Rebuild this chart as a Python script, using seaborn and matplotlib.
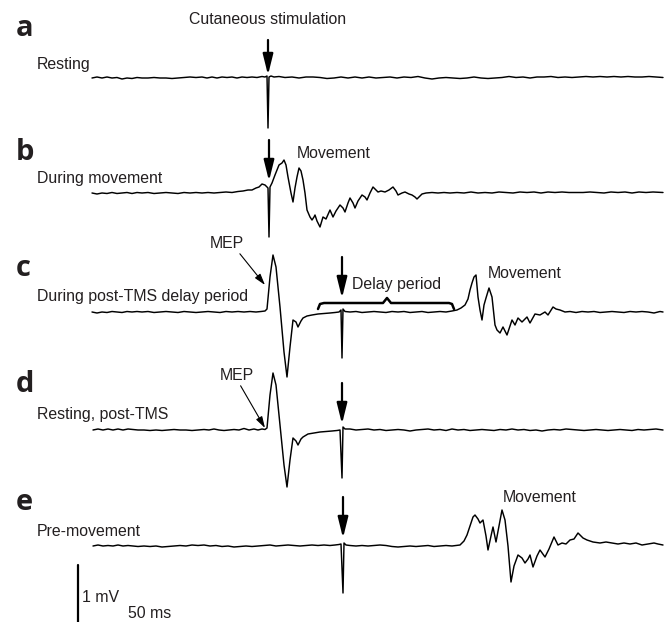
import matplotlib
matplotlib.use('Agg')
import matplotlib.pyplot as plt
import seaborn as sns
import pandas as pd

# traces: time position (px on the page) and amplitude (px, up = positive)
a_t = [92, 97, 102, 107, 112, 117, 122, 127, 132, 137,
       142, 148, 154, 160, 166, 172, 178, 184, 190, 196,
       202, 207, 212, 217, 222, 227, 232, 237, 242, 247,
       252, 257, 262, 265, 267, 268, 269, 271, 274, 279,
       285, 292, 299, 306, 313, 320, 327, 334, 341, 348,
       355, 362, 369, 376, 383, 390, 397, 404, 411, 418,
       425, 432, 439, 446, 453, 460, 467, 474, 481, 488,
       495, 502, 509, 516, 523, 530, 537, 544, 551, 558,
       565, 572, 579, 586, 593, 600, 607, 614, 621, 628,
       635, 642, 649, 656, 663]
a_v = [0, 1, 0, 1, 0, 0.5, -1, 0, -0.5, 0.5,
       0, 0, 0.5, 0, 0, -0.5, 0, 0.5, 1, 0.5,
       1, 0, 1, 0, 1, 0.5, 1, 0, 1, 0.5,
       1, 0.5, 1.5, 1, 2, -50, 1, 2, 1, 1.5,
       0.5, 1, 0, 1, 1, 0.5, -0.5, 0, 1, 0,
       1, 0, 1, 0, 0.5, 1, 0, 1, 0.5, 1.5,
       0, -1, 0, 0.5, 0, -0.5, 0, 1, 0, -0.5,
       0, 0.5, 1.5, 0.5, 1, 0, 1, 1, 1.5, 0.5,
       1, 0.5, 1, 1.5, 1, 1.5, 1, 1.5, 1, 1.5,
       1, 1, 1.5, 1, 0.5]

b_t = [92, 97, 102, 107, 112, 117, 122, 127, 132, 137,
       142, 148, 154, 160, 166, 172, 178, 184, 190, 196,
       202, 208, 214, 220, 226, 232, 238, 243, 248, 252,
       256, 259, 262, 265, 267, 268, 269, 270, 272, 275,
       277, 279, 282, 284, 286, 288, 291, 293, 295, 297,
       299, 301, 303, 305, 307, 310, 312, 314, 315, 317,
       320, 323, 326, 330, 333, 336, 340, 343, 345, 348,
       350, 353, 355, 358, 362, 365, 367, 370, 373, 376,
       378, 381, 385, 389, 393, 396, 398, 402, 405, 409,
       412, 415, 417, 420, 422, 426, 432, 438, 444, 450,
       457, 464, 471, 478, 485, 492, 499, 506, 513, 520,
       527, 534, 541, 548, 555, 562, 569, 576, 583, 590,
       597, 604, 611, 618, 625, 632, 639, 646, 653, 663]
b_v = [0, -1, 0, -0.5, 0.5, -0.5, 0, 0.5, -0.5, 0.5,
       0, 0.5, -0.5, 0, 0.5, 0, -0.5, 0.5, 0, 0.5,
       0, 0.5, 0, 0.5, 1, 0.5, 1.5, 2, 3, 3,
       5, 6, 9, 8, 6, 5, -44, 6, 10, 18,
       23, 28, 30, 33, 28, 16, 0, -9, 5, 16,
       25, 22, 13, 0, -17, -24, -27, -24, -22, -28,
       -34, -24, -26, -17, -24, -18, -12, -15, -19, -10,
       -5, -10, -15, -8, -2, -4, -7, 0, 6, 3,
       1, 2, 1, 3, 6, 2, -2, 0, 1, -1,
       -2, -4, -6, -3, -1, 0, 0.5, 0, 0.5, 0,
       0.5, 0, 1, 0, 0.5, 0, 1, 0.5, 0, 1,
       0.5, 1, 0, 1, 0.5, 1, 0.5, 0.5, 0.5, 1,
       0.5, 0, 1, 0.5, 1, 0, 1, 0.5, 1, 0.5]

c_t = [92, 97, 102, 107, 112, 117, 122, 127, 132, 137,
       142, 148, 154, 160, 166, 172, 178, 184, 190, 196,
       202, 208, 214, 220, 226, 232, 238, 244, 250, 256,
       261, 265, 267, 270, 273, 276, 280, 284, 287, 290,
       293, 296, 298, 301, 303, 307, 312, 318, 324, 330,
       335, 339, 341, 342, 343, 345, 350, 356, 362, 368,
       374, 380, 386, 392, 398, 404, 410, 416, 422, 428,
       434, 440, 446, 452, 457, 461, 465, 468, 470, 472,
       474, 476, 478, 480, 482, 484, 486, 489, 492, 495,
       497, 500, 503, 507, 510, 512, 515, 518, 522, 527,
       530, 535, 540, 545, 548, 553, 556, 560, 565, 570,
       576, 582, 588, 594, 600, 606, 612, 618, 624, 630,
       636, 642, 648, 654, 660, 663]
c_v = [0, -1, 0, -0.5, 0.5, 0, -0.5, 0.5, 0, 0.5,
       0, 0.5, -0.5, 0, 0.5, 0, -0.5, 0.5, 0, -0.5,
       0, 0.5, 0, -0.5, 0.5, 0, 0.5, 0, 0.5, 0,
       0.5, 1, 3, 35, 57, 45, 5, -40, -65, -35,
       -8, -10, -15, -9, -6, -4, -3, -2, -1.5, -1,
       -0.5, 0, 2, -46, 3, 0.5, 0, 0.5, -0.5, 0,
       0.5, 0, -0.5, 0.5, 0, 0.5, -0.5, 0, 0.5, -0.5,
       0, 0.5, 0, 1, 2, 4, 7, 13, 22, 29,
       35, 37, 15, 2, -8, 7, 14, 24, 15, -13,
       -18, -21, -15, -23, -14, -8, -13, -6, -10, -5,
       -11, -2, -3, 0, -3, 5, 3, 2, 0, 0.5,
       -0.5, 0.5, 0, 0.5, -0.5, 0, 0.5, 0, -0.5, 0.5,
       0, 0.5, 0, -1, 0.5, 0]

d_t = [93, 98, 103, 108, 113, 118, 123, 128, 133, 138,
       144, 150, 156, 162, 168, 174, 180, 186, 192, 198,
       204, 209, 214, 219, 224, 229, 234, 239, 244, 249,
       254, 258, 262, 265, 267, 270, 273, 276, 280, 284,
       287, 290, 293, 296, 298, 301, 303, 308, 314, 320,
       326, 332, 337, 340, 342, 343, 345, 350, 356, 362,
       368, 374, 380, 386, 392, 398, 404, 410, 416, 422,
       428, 434, 440, 446, 452, 458, 464, 470, 476, 482,
       488, 494, 500, 506, 512, 518, 524, 530, 536, 542,
       548, 554, 560, 566, 572, 578, 584, 590, 596, 602,
       608, 614, 620, 626, 632, 638, 644, 650, 656, 663]
d_v = [0, 1, 0, 1, 0, 1, 0, 1, 0.5, 0,
       0, -0.5, 0, -0.5, 0, 0.5, 0, 0, -0.5, 0,
       0.5, 0, 1, 0, -0.5, 0, 0.5, 0, 1.5, 0,
       1, 0, 1, 0.5, 2, 35, 57, 45, 5, -35,
       -57, -30, -8, -11, -15, -9, -7, -4, -3, -2,
       -1.5, -1, -0.5, 0, -48, 3, 1, 1, 0, 0.5,
       1, 0, 0.5, -0.5, 0, 0.5, 0, -1, 0, 0.5,
       1, 0, 0.5, -0.5, 1, 0, 0.5, -0.5, 0, 0.5,
       0, -0.5, 0.5, 0, 1, 0, 0.5, -0.5, 0, -1,
       0, 0.5, 0, 1, 0.5, 0, -0.5, 0, 0.5, 0,
       -0.5, 0, 0.5, 0, -0.5, 0.5, 0, 0.5, 1, 0]

e_t = [93, 98, 103, 108, 113, 118, 123, 128, 133, 138,
       144, 150, 156, 162, 168, 174, 180, 186, 192, 198,
       204, 210, 216, 222, 228, 234, 240, 246, 252, 258,
       264, 270, 276, 282, 288, 294, 300, 306, 312, 318,
       324, 330, 335, 339, 341, 343, 344, 346, 350, 356,
       362, 368, 374, 380, 386, 392, 398, 404, 410, 416,
       422, 428, 434, 440, 446, 452, 456, 460, 464, 467,
       470, 473, 475, 478, 480, 483, 486, 488, 491, 493,
       496, 499, 502, 505, 508, 511, 514, 518, 522, 525,
       528, 530, 533, 537, 540, 545, 549, 554, 558, 562,
       566, 570, 574, 578, 583, 587, 593, 600, 606, 612,
       618, 624, 630, 636, 642, 648, 654, 658, 663]
e_v = [0, 1, 0, 0.5, 0, 1, 0, 0.5, 0, -0.5,
       0, -0.5, 0, -1, -0.5, 0, 0.5, 0, 1, 0.5,
       1, 0, 0.5, -0.5, 0, -1, -0.5, 0, -0.5, 0,
       0.5, 1, 0, 0.5, 1, 0.5, 0, 0.5, 1, 0.5,
       1, 0.5, 1, 1.5, 2, -47, 3, 1, 0.5, 0,
       0.5, 0, 0.5, 1, 0.5, -0.5, -1, -0.5, 0, -0.5,
       0, 0.5, -0.5, 0, 0.5, 0, 0.5, 1, 5, 11,
       20, 29, 31, 27, 23, 26, 10, -4, 10, 19,
       4, 20, 36, 26, 0, -36, -20, -9, -12, -17,
       -13, -9, -21, -10, -4, -11, -3, 9, 1, 3,
       2, 6, 7, 13, 8, 6, 4, 3, 4, 3,
       2, 3, 2, 3, 1, 2, 3, 2, 1]

panels = ['a', 'b', 'c', 'd', 'e']
conditions = ['Resting', 'During movement', 'During post-TMS delay period',
              'Resting, post-TMS', 'Pre-movement']
baselines = [78, 193, 312, 430, 546]
traces = [(a_t, a_v), (b_t, b_v), (c_t, c_v), (d_t, d_v), (e_t, e_v)]

frames = []
for p, base, (t, v) in zip(panels, baselines, traces):
    frames.append(pd.DataFrame({'trace': p, 't': t, 'y': [base - val for val in v]}))
df = pd.concat(frames, ignore_index=True)

sns.set_theme(style='white')
plt.rcParams['font.family'] = ['Liberation Sans', 'DejaVu Sans']
ink = '#231f20'
fs = 11.4

fig = plt.figure(figsize=(6.67, 6.22), dpi=100)
ax = fig.add_axes([0, 0, 1, 1])
sns.lineplot(data=df, x='t', y='y', units='trace', estimator=None,
             color='black', lw=1.05, ax=ax, legend=False)
ax.set_xlim(0, 667)
ax.set_ylim(622, 0)
ax.axis('off')

# panel letters and condition labels
letter_y = [29, 153, 268, 385, 503]
label_y = [65, 178, 297, 415, 532]
for p, cond, ly, cy in zip(panels, conditions, letter_y, label_y):
    ax.text(16, ly, p, fontsize=21, fontweight='bold', family='Open Sans',
            color=ink, ha='left', va='center')
    ax.text(37, cy, cond, fontsize=fs, color=ink, ha='left', va='center')

# stimulation arrows
big_arrow = dict(arrowstyle='-|>,head_length=1.05,head_width=0.26', lw=1.6,
                 color='black', shrinkA=0, shrinkB=0)
for x0, y0, y1 in [(268, 40, 75), (269, 140, 181), (342, 257, 298),
                   (342, 383, 424), (343, 497, 538)]:
    ax.annotate('', xy=(x0, y1), xytext=(x0, y0), arrowprops=big_arrow)

ax.text(268, 19, 'Cutaneous stimulation', fontsize=fs, color=ink,
        ha='center', va='center')

# movement labels
for x0, y0 in [(297, 153), (488, 273), (503, 497)]:
    ax.text(x0, y0, 'Movement', fontsize=fs, color=ink, ha='left', va='center')

# MEP labels with thin arrows
mep_arrow = dict(arrowstyle='-|>,head_length=0.6,head_width=0.18', lw=0.8,
                 color='black', shrinkA=0, shrinkB=0)
ax.annotate('MEP', xy=(265, 285), xytext=(227, 243), fontsize=fs, color=ink,
            ha='center', va='center', arrowprops=dict(mep_arrow, relpos=(0.8, 0.0)))
ax.annotate('MEP', xy=(265, 428), xytext=(237, 375), fontsize=fs, color=ink,
            ha='center', va='center', arrowprops=dict(mep_arrow, relpos=(0.55, 0.0)))

# delay period brace
brace_x = [318, 320, 324, 383, 387, 391, 449, 452, 454]
brace_y = [309, 304, 303, 303, 298, 303, 303, 304, 309]
ax.plot(brace_x, brace_y, color='black', lw=1.8, solid_joinstyle='round')
ax.text(352, 285, 'Delay period', fontsize=fs, color=ink, ha='left', va='center')

# scale bar
ax.plot([78, 78], [565, 630], color='black', lw=1.6)
ax.text(82, 598, '1 mV', fontsize=fs, color=ink, ha='left', va='center')
ax.text(128, 613, '50 ms', fontsize=fs, color=ink, ha='left', va='center')

fig.savefig('out.png', dpi=100, facecolor='white')
